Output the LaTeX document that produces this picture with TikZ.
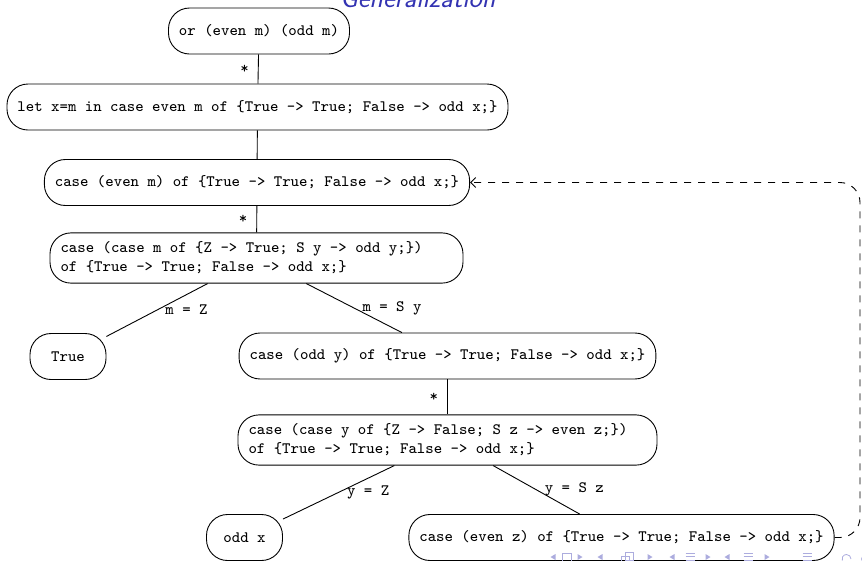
\documentclass[tikz,border=0pt]{standalone}
\usepackage{fontspec}
\newfontfamily\codefont{lmmono8-regular.otf}
\usetikzlibrary{arrows.meta}
\definecolor{structure}{RGB}{51,51,178}
\definecolor{navsym}{RGB}{172,172,222}

\begin{document}
\begin{tikzpicture}[x=1pt,y=-1pt,
  term/.style={draw, line width=0.9pt, rounded corners=21pt,
    minimum height=46pt, minimum width=76pt, inner xsep=10.5pt, inner ysep=9pt,
    font=\codefont\fontsize{15.86}{19}\selectfont},
  term2/.style={term, align=left},
  link/.style={line width=0.9pt},
  starlbl/.style={midway, anchor=east, xshift=-9pt, inner sep=0pt,
    font=\codefont\fontsize{15.86}{19}\selectfont},
  caselbl/.style={midway, anchor=west, xshift=8pt, inner sep=0pt,
    font=\codefont\fontsize{15.86}{19}\selectfont},
  backlink/.style={line width=0.9pt, dash pattern=on 7pt off 7pt,
    rounded corners=20pt, -{Straight Barb[length=5pt,width=10pt]}}]
\useasboundingbox (0,0) rectangle (862,560);
\clip (0,0) rectangle (862,560);

% slide title
\node[anchor=base west, inner sep=0pt, text=structure,
  font=\sffamily\itshape\fontsize{28}{32}\selectfont] (title) at (340,7) {Generalization};

% terms of the process tree
\node[term] (n1) at (259,31) {or (even m) (odd m)};
\node[term] (n2) at (257.5,107) {let x=m in case even m of \{True -> True; False -> odd x;\}};
\node[term] (n3) at (257,182.5) {case (even m) of \{True -> True; False -> odd x;\}};
\node[term2] (n4) at (256.5,258)
  {\makebox[392pt][l]{case (case m of \{Z -> True; S y -> odd y;\})}\\of \{True -> True; False -> odd x;\}};
\node[term] (n5) at (68,356.5) {True};
\node[term] (n6) at (447.5,356) {case (odd y) of \{True -> True; False -> odd x;\}};
\node[term2] (n7) at (447.5,440)
  {\makebox[398pt][l]{case (case y of \{Z -> False; S z -> even z;\})}\\of \{True -> True; False -> odd x;\}};
\node[term] (n8) at (244.5,537.5) {odd x};
\node[term] (n9) at (621.5,537.5) {case (even z) of \{True -> True; False -> odd x;\}};

% tree edges
\draw[link] (n1) -- (n2) node[starlbl] {*};
\draw[link] (n2) -- (n3);
\draw[link] (n3) -- (n4) node[starlbl] {*};
\draw[link] (n4) -- (n5) node[caselbl] {m = Z};
\draw[link] (n4) -- (n6) node[caselbl] {m = S y};
\draw[link] (n6) -- (n7) node[starlbl] {*};
\draw[link] (n7) -- (n8) node[caselbl] {y = Z};
\draw[link] (n7) -- (n9) node[caselbl] {y = S z};

% folding back-edge
\coordinate (bend) at (860,182.5);
\draw[backlink] (n9.east) -| (bend) -- (n3.east);

% navigation symbols
\begin{scope}[navsym, line width=0.8pt]
  \foreach \x in {553,600,672,727}
    \fill[navsym] (\x-2.5,557) -- (\x+2.5,554) -- (\x+2.5,560) -- cycle;
  \foreach \x in {580,650,708,767}
    \fill[navsym] (\x+2.5,557) -- (\x-2.5,554) -- (\x-2.5,560) -- cycle;
  \draw (562,553) rectangle (571,563);
  \draw (621,556) rectangle (629,564);
  \draw (625,552) rectangle (633,560);
  \foreach \x in {690,748,807}
    \draw (\x-4.5,553) -- (\x+4.5,553) (\x-4.5,556.5) -- (\x+4.5,556.5) (\x-4.5,560) -- (\x+4.5,560);
  \draw (851,559) arc[start angle=0, end angle=-200, radius=4.5];
  \draw (866,559) circle[radius=4.5];
\end{scope}
\end{tikzpicture}
\end{document}
